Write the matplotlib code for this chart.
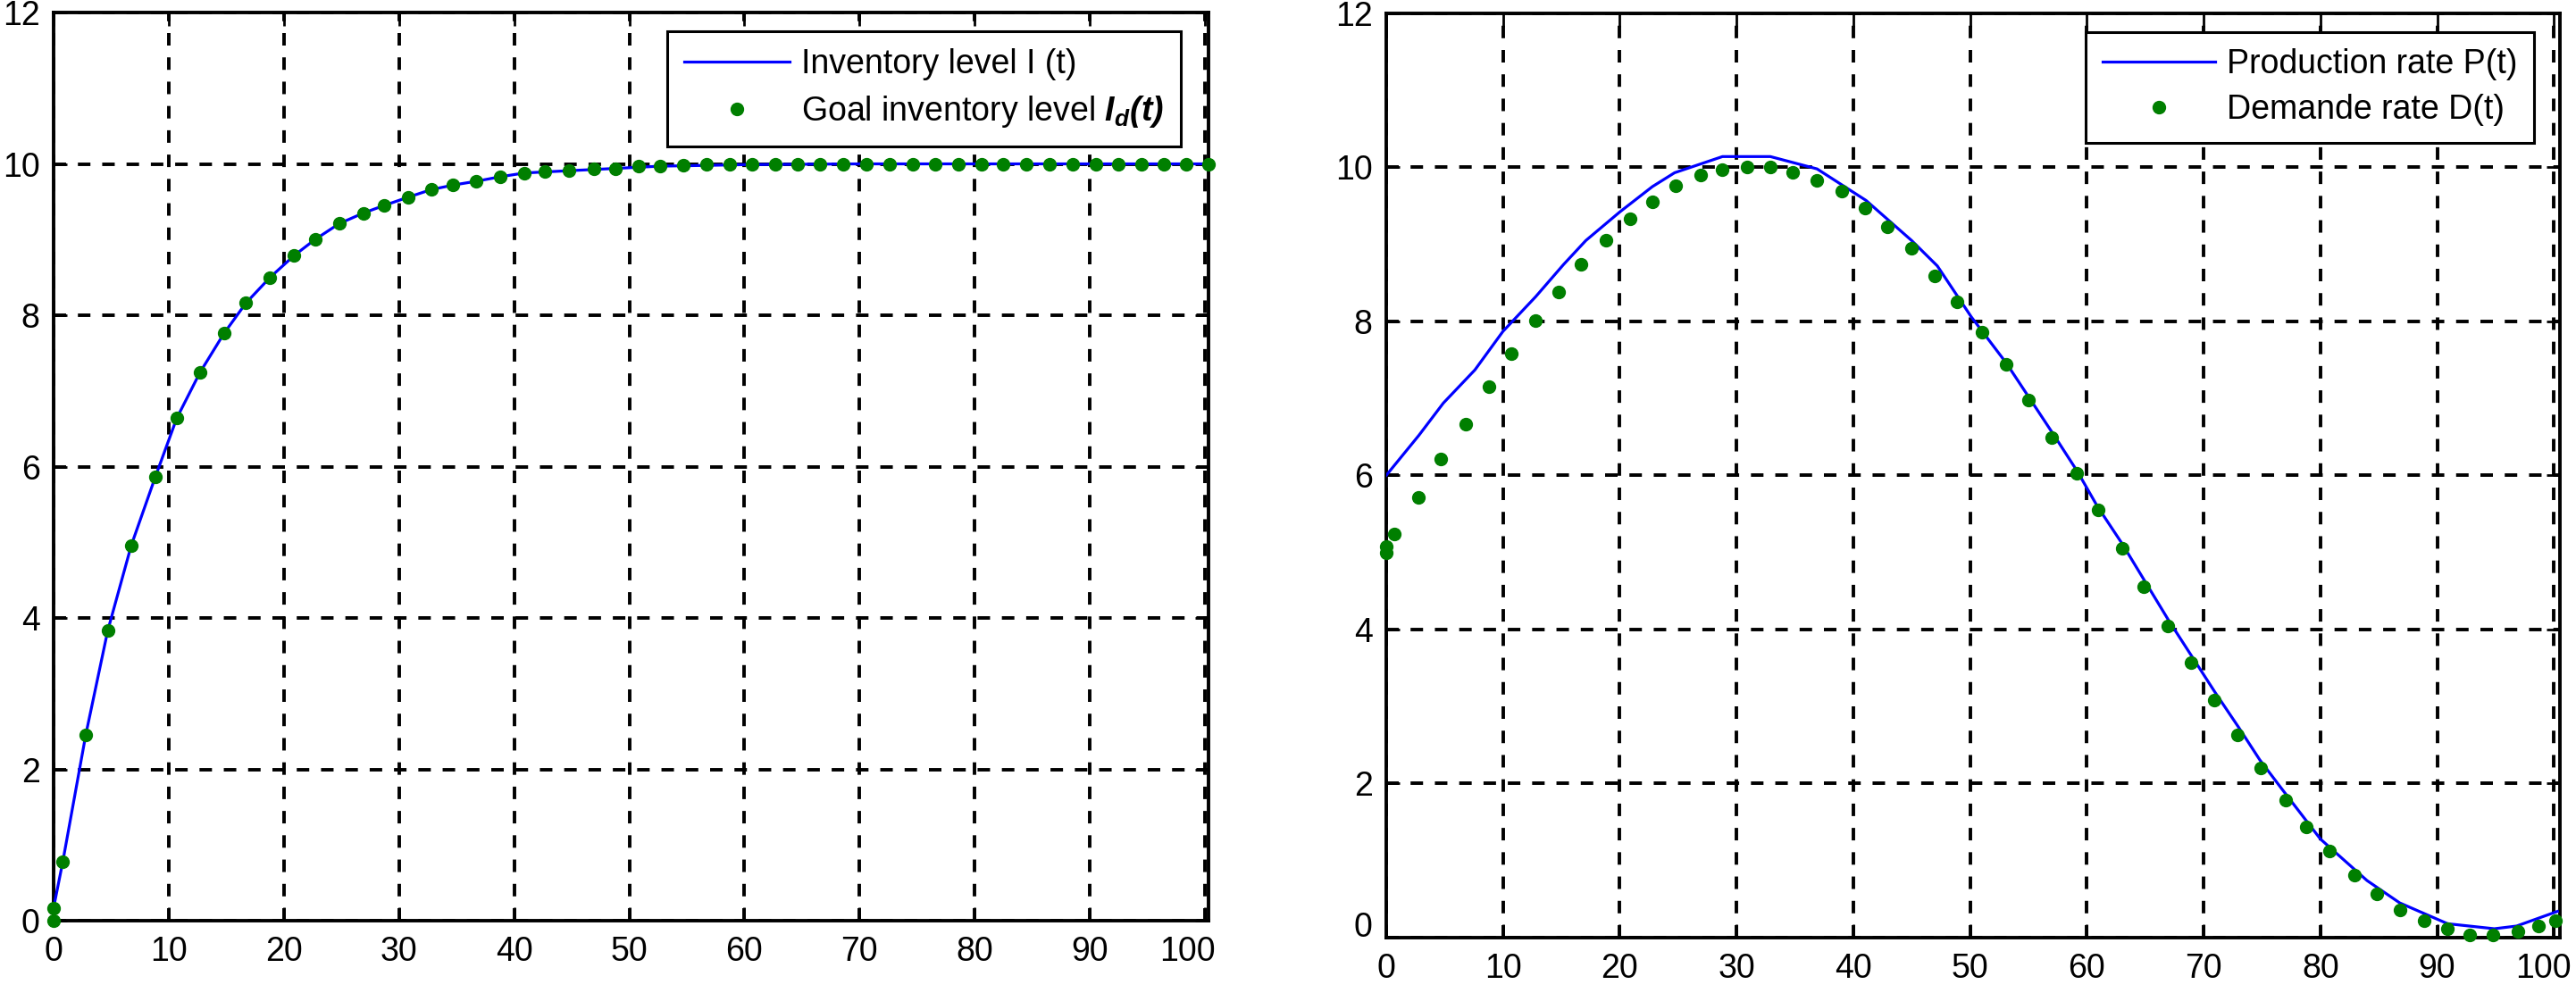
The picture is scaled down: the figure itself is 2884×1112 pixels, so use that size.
import matplotlib
matplotlib.use('Agg')
import matplotlib.pyplot as plt
import matplotlib.transforms as mtransforms

# font like the MATLAB export (Arial -> Liberation Sans)
plt.rcParams['font.family'] = ['Liberation Sans', 'DejaVu Sans']
plt.rcParams['mathtext.fontset'] = 'custom'
plt.rcParams['mathtext.bf'] = 'Liberation Sans:italic:bold'
plt.rcParams['mathtext.rm'] = 'Liberation Sans'

# left panel: inventory
inv_t = [0, 0.8, 2.8, 4.7, 6.75, 8.85, 10.7, 12.7, 14.8, 16.7, 18.8, 20.9, 22.7, 24.8,
         26.9, 28.7, 30.8, 32.8, 34.7, 36.7, 38.8, 40.9, 44.8, 48.8, 52.7, 56.7, 60, 70,
         80, 90, 100.3]
inv_level = [0.17, 0.78, 2.46, 3.83, 4.96, 5.87, 6.64, 7.24, 7.76, 8.16, 8.50, 8.79, 9.00,
             9.21, 9.35, 9.45, 9.56, 9.66, 9.72, 9.77, 9.83, 9.88, 9.91, 9.94, 9.97, 9.98,
             9.99, 10.0, 10.0, 10.0, 10.0]

goal_t = [0, 0, 0.8, 2.8, 4.7, 6.75, 8.85, 10.7, 12.7, 14.8, 16.7, 18.8, 20.9, 22.7, 24.8,
          26.9, 28.7, 30.8, 32.8, 34.7, 36.7, 38.8, 40.9, 42.7, 44.8, 46.9, 48.8, 50.8,
          52.7, 54.7, 56.7, 58.7, 60.7, 62.7, 64.6, 66.6, 68.6, 70.6, 72.6, 74.6, 76.6,
          78.6, 80.6, 82.5, 84.5, 86.5, 88.5, 90.5, 92.5, 94.5, 96.4, 98.4, 100.3]
goal_level = [0.0, 0.17, 0.78, 2.46, 3.83, 4.96, 5.87, 6.64, 7.24, 7.76, 8.16, 8.50, 8.79,
              9.00, 9.21, 9.35, 9.45, 9.56, 9.66, 9.72, 9.77, 9.83, 9.88, 9.90, 9.91, 9.94,
              9.94, 9.97, 9.97, 9.98, 9.99, 9.99, 10.0, 10.0, 10.0, 10.0, 10.0, 10.0, 10.0,
              10.0, 10.0, 10.0, 10.0, 10.0, 10.0, 10.0, 10.0, 10.0, 10.0, 10.0, 10.0, 10.0,
              10.0]

# right panel: production / demand
prod_t = [0, 2.8, 4.9, 7.6, 10.0, 12.8, 15.2, 17.1, 20.0, 22.8, 24.7, 28.8, 32.9, 36.9,
          41.1, 45.0, 47.2, 50.1, 53.1, 57.2, 59.2, 60.9, 63, 65, 67, 69, 71, 73, 74.8,
          76.7, 80.0, 84.0, 86.8, 90.9, 94.9, 96.8, 100.3]
prod_rate = [6.0, 6.52, 6.94, 7.37, 7.87, 8.32, 8.74, 9.05, 9.42, 9.75, 9.93, 10.14, 10.14,
             9.98, 9.57, 9.05, 8.72, 8.06, 7.46, 6.52, 6.05, 5.6, 5.12, 4.62, 4.12, 3.65,
             3.18, 2.73, 2.31, 1.93, 1.28, 0.74, 0.45, 0.18, 0.115, 0.15, 0.34]

demand_t = [0, 0, 0.7, 2.8, 4.7, 6.8, 8.8, 10.7, 12.8, 14.8, 16.7, 18.8, 20.9, 22.8, 24.8,
            26.9, 28.8, 30.9, 32.9, 34.8, 36.9, 39.0, 41.0, 42.9, 45.0, 47.0, 48.9, 51.0,
            53.1, 55.0, 57.0, 59.1, 61.0, 63.0, 64.9, 66.9, 68.9, 70.9, 72.9, 74.9, 77.0,
            78.8, 80.8, 82.9, 84.8, 86.8, 88.9, 90.9, 92.8, 94.8, 96.9, 98.7, 100.1]
demand_rate = [5.0, 5.08, 5.24, 5.71, 6.21, 6.66, 7.15, 7.58, 8.01, 8.38, 8.74, 9.05, 9.33,
               9.55, 9.76, 9.90, 9.97, 10.0, 10.0, 9.94, 9.83, 9.69, 9.47, 9.23, 8.95, 8.59,
               8.25, 7.86, 7.44, 6.98, 6.49, 6.03, 5.55, 5.05, 4.55, 4.05, 3.57, 3.08, 2.63,
               2.20, 1.79, 1.44, 1.12, 0.81, 0.57, 0.36, 0.22, 0.12, 0.04, 0.04, 0.08, 0.15,
               0.22]

x_ticks = [0, 10, 20, 30, 40, 50, 60, 70, 80, 90, 100]
y_ticks = [0, 2, 4, 6, 8, 10, 12]

blue = '#0000ff'
green = '#007f00'
fs = 27

fig = plt.figure(figsize=(28.84, 11.12), dpi=100)
ax1 = fig.add_axes([0.0208, 0.0728, 0.4483, 0.9146])
ax2 = fig.add_axes([0.5381, 0.0558, 0.4556, 0.9308])


def style_axes(ax, xmax):
    ax.set_xlim(0, xmax)
    ax.set_ylim(0, 12)
    ax.set_xticks(x_ticks)
    ax.set_yticks(y_ticks)
    ax.tick_params(direction='in', length=11, width=2, top=True, right=True,
                   labelsize=fs, colors='black')
    ax.tick_params(axis='x', pad=12)
    ax.tick_params(axis='y', pad=11)
    ax.grid(True, color='black', linewidth=2.8, linestyle=(0, (3.6, 3.4)))
    ax.set_axisbelow(True)
    for s in ax.spines.values():
        s.set_linewidth(2.8)
        s.set_zorder(2.5)


def add_legend(ax, anchor, hlen):
    leg = ax.legend(loc='upper right', bbox_to_anchor=anchor, borderaxespad=0,
                    fontsize=fs, fancybox=False, framealpha=1, edgecolor='black',
                    handlelength=hlen, handletextpad=0.35, borderpad=0.5,
                    labelspacing=0.4)
    leg.get_frame().set_linewidth(2.2)
    return leg


def nudge(label, dx_px, dy_px):
    # shift a tick label by a few pixels, like MATLAB keeps edge labels inside
    off = mtransforms.ScaledTranslation(dx_px / 100, dy_px / 100, fig.dpi_scale_trans)
    label.set_transform(label.get_transform() + off)


# left: inventory level
ax1.plot(inv_t, inv_level, color=blue, linewidth=2.3, label='Inventory level I (t)', zorder=3)
ax1.plot(goal_t, goal_level, linestyle='none', marker='o', markersize=10, color=green,
         label=r'Goal inventory level $\mathbf{I_d(t)}$', clip_on=False, zorder=4)
style_axes(ax1, 100.3)
add_legend(ax1, (0.976, 0.979), 3.15)
nudge(ax1.get_xticklabels()[-1], -20, 0)

# right: production and demand rates
ax2.plot(prod_t, prod_rate, color=blue, linewidth=2.3, label='Production rate P(t)', zorder=3)
ax2.plot(demand_t, demand_rate, linestyle='none', marker='o', markersize=10, color=green,
         label='Demande rate D(t)', clip_on=False, zorder=4)
style_axes(ax2, 100.5)
add_legend(ax2, (0.978, 0.980), 3.35)
nudge(ax2.get_xticklabels()[-1], -12, 0)
nudge(ax2.get_yticklabels()[0], 0, 15)

fig.savefig('out.png', dpi=100)
